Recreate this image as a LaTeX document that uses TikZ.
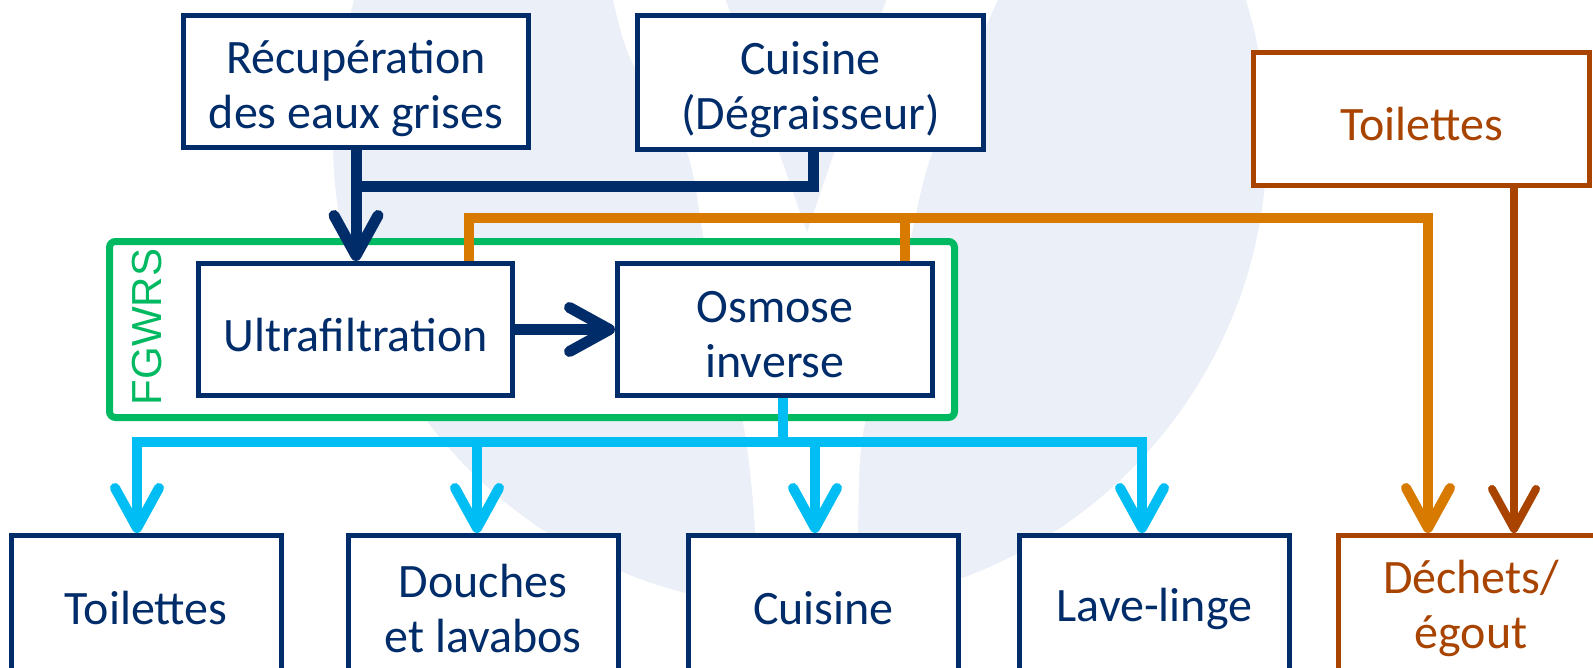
\documentclass[tikz,border=0pt]{standalone}
\usepackage{fontspec}
\setmainfont{Carlito}
\newfontfamily\fgwrsfont{Liberation Sans}
\usetikzlibrary{arrows.meta}
\definecolor{navy}{RGB}{0,44,106}
\definecolor{fgreen}{RGB}{0,185,96}
\definecolor{forange}{RGB}{217,122,0}
\definecolor{fbrown}{RGB}{168,68,0}
\definecolor{faqua}{RGB}{0,190,243}
\definecolor{fpale}{RGB}{234,239,248}
\tikzset{flowtip/.tip={Straight Barb[length=20pt,width=22pt,round]}}
\newcommand{\toppad}[1]{\rule{0pt}{#1}}

\begin{document}
\begin{tikzpicture}[x=0.5pt,y=-0.5pt,
  bluebox/.style={draw=navy,line width=2.5pt,fill=white,text=navy,inner sep=0pt,
    align=center,font=\fontsize{24}{27.5}\selectfont},
  brownbox/.style={bluebox,draw=fbrown,text=fbrown},
  lowtext/.style={execute at begin node={\rule{0pt}{22pt}}},
  navyline/.style={draw=navy,line width=5.5pt},
  orangeline/.style={draw=forange,line width=5pt},
  brownline/.style={draw=fbrown,line width=4pt},
  aqualine/.style={draw=faqua,line width=5pt}]
\fill[white] (0,0) rectangle (1593,668);
\useasboundingbox (0,0) rectangle (1593,668);
% watermark
\fill[fpale] (800,140) circle[radius=233.5pt];
\begin{scope}
\clip (800,140) circle[radius=233.5pt];
\fill[white] plot[smooth] coordinates {(612,-5) (631,60) (686,150) (704,240) (728,350) (746,440) (755,530) (755,620)}
  -- plot[smooth] coordinates {(857,620) (858,530) (862,440) (885,340) (908,250) (933,150) (1000,-5)} -- cycle;
\fill[fpale] (724,-5) -- (807,232) -- (888,-5) -- cycle;
\end{scope}
% boxes
\node[bluebox,draw=fgreen,line width=3.5pt,rounded corners=3pt,minimum width=422.5pt,minimum height=88pt] (fgwrs) at (532,329.5) {};
\node[text=fgreen,rotate=90,font=\fgwrsfont\fontsize{21}{24}\selectfont] (fgwrslabel) at (147,327) {FGWRS};
\node[bluebox,minimum width=172.5pt,minimum height=66pt] (recup) at (356,81.5) {\toppad{24pt}Récupération\\des eaux grises};
\node[bluebox,minimum width=173pt,minimum height=67pt] (cuis1) at (810.5,82.5) {\toppad{24pt}Cuisine\\(Dégraisseur)};
\node[brownbox,lowtext,minimum width=168pt,minimum height=66.5pt] (toil2) at (1421.5,119) {Toilettes};
\node[bluebox,lowtext,minimum width=157pt,minimum height=66pt] (ultra) at (355.5,329.5) {Ultrafiltration};
\node[bluebox,minimum width=157.5pt,minimum height=66pt] (osmose) at (775,329.5) {\toppad{20.5pt}Osmose\\inverse};
\node[bluebox,minimum width=135pt,minimum height=73pt] (toil1) at (146,608.5) {Toilettes};
\node[bluebox,minimum width=135pt,minimum height=73pt] (douches) at (483,608.5) {Douches\\et lavabos};
\node[bluebox,minimum width=135pt,minimum height=73pt] (cuis2) at (823.5,608.5) {Cuisine};
\node[bluebox,minimum width=135pt,minimum height=73pt] (lave) at (1154.5,608.5) {Lave-linge};
\node[brownbox,minimum width=132.5pt,minimum height=73pt] (dechets) at (1471,608.5) {Déchets/\\égout};
% connectors
\coordinate (navyjoin) at (recup.south |- 0,187);
\draw[navyline] (cuis1.south -| 813,0) |- (navyjoin);
\draw[navyline,-flowtip] (recup.south) -- (recup.south |- ultra.north);
\draw[navyline,-flowtip] (ultra.east) -- (osmose.west);
\draw[orangeline,-flowtip] (469,0 |- ultra.north) |- (1428,218) -- (1428,0 |- dechets.north);
\draw[orangeline] (905,0 |- osmose.north) -- (905,218);
\draw[brownline,-flowtip] (1514,0 |- toil2.south) -- (1514,0 |- dechets.north);
\coordinate (bus) at (783,442);
\draw[aqualine] (783,0 |- osmose.south) -- (bus);
\draw[aqualine,-flowtip] (bus) -| (137,0 |- toil1.north);
\draw[aqualine,-flowtip] (bus) -| (477,0 |- douches.north);
\draw[aqualine,-flowtip] (bus) -| (815,0 |- cuis2.north);
\draw[aqualine,-flowtip] (bus) -| (1142,0 |- lave.north);
\end{tikzpicture}
\end{document}
